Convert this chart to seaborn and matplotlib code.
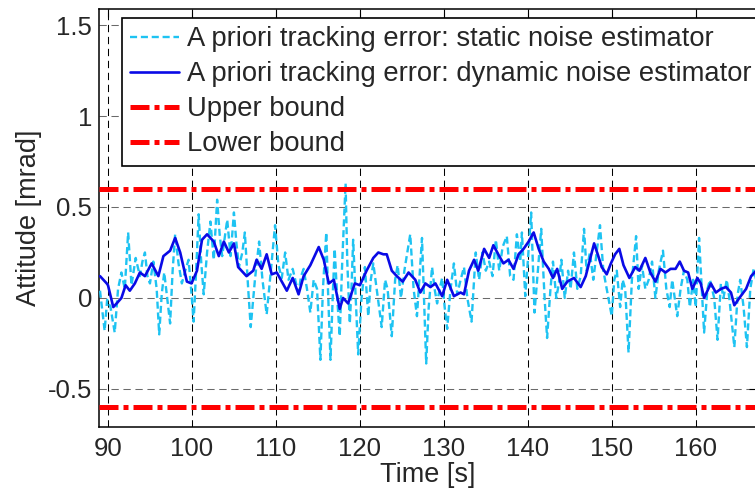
import numpy as np
import pandas as pd
import matplotlib
matplotlib.use("Agg")
import matplotlib.pyplot as plt
import seaborn as sns

# Dynamic-noise-estimator tracking error (smooth trace)
t_dyn = [89.05, 89.85, 90.0, 90.63, 91.03, 91.6, 92.1, 92.6, 93.2, 93.8, 94.4, 95.2,
         96.0, 96.6, 97.4, 98.0, 98.6, 99.4, 99.95, 100.6, 101.2, 101.8, 102.6, 103.2,
         103.8, 104.4, 105.0, 105.5, 106.5, 107.3, 107.7, 108.3, 108.9, 109.5, 110.1,
         110.7, 111.3, 112.0, 112.7, 113.3, 114.1, 115.1, 115.7, 116.3, 116.9, 117.6,
         118.0, 118.6, 119.4, 120.0, 120.8, 121.6, 122.2, 122.8, 123.2, 123.8, 124.4,
         125.1, 125.8, 126.6, 127.2, 127.8, 128.4, 129.0, 129.8, 130.4, 131.2, 132.0,
         132.4, 133.0, 133.6, 134.1, 134.8, 135.4, 135.9, 136.6, 137.1, 137.7, 138.3,
         138.9, 139.5, 140.1, 140.7, 141.3, 141.9, 142.5, 143.0, 143.5, 144.1, 144.7,
         145.5, 146.3, 146.9, 147.4, 147.9, 148.4, 148.8, 149.4, 149.9, 150.4, 150.9,
         151.4, 152.1, 152.8, 153.3, 154.0, 154.6, 155.2, 155.8, 156.4, 157.0, 157.6,
         158.1, 158.6, 159.1, 159.6, 160.2, 160.6, 161.0, 161.8, 162.4, 163.0, 163.6,
         164.2, 164.6, 165.2, 166.0, 166.6, 167.2]
v_dyn = [0.12, 0.08, 0.07, -0.05, -0.03, 0.00, 0.07, 0.04, 0.08, 0.14, 0.12, 0.19,
         0.12, 0.23, 0.26, 0.33, 0.25, 0.09, 0.08, 0.15, 0.32, 0.35, 0.31, 0.23,
         0.31, 0.25, 0.30, 0.17, 0.12, 0.15, 0.21, 0.16, 0.24, 0.13, 0.14,
         0.09, 0.04, 0.11, 0.02, 0.12, 0.18, 0.28, 0.21, 0.08, 0.10, -0.06,
         0.00, -0.03, 0.08, 0.07, 0.15, 0.22, 0.25, 0.24, 0.24, 0.15, 0.12,
         0.09, 0.14, 0.10, 0.03, 0.08, 0.06, 0.08, 0.01, 0.10, 0.01, 0.03,
         0.02, 0.15, 0.21, 0.15, 0.27, 0.22, 0.29, 0.23, 0.19, 0.21, 0.16,
         0.24, 0.27, 0.31, 0.36, 0.27, 0.20, 0.16, 0.11, 0.16, 0.05, 0.09,
         0.11, 0.06, 0.12, 0.21, 0.30, 0.23, 0.17, 0.13, 0.19, 0.24, 0.27,
         0.18, 0.11, 0.17, 0.15, 0.22, 0.14, 0.09, 0.16, 0.14, 0.16, 0.16,
         0.20, 0.15, 0.14, 0.05, 0.11, 0.08, 0.00, 0.08, 0.03, 0.05, 0.06,
         0.03, -0.04, 0.00, 0.05, 0.12, 0.15]

# Static-noise-estimator tracking error (noisy trace)
t_sta = [89.05, 89.6, 89.9, 90.3, 90.8, 91.2, 91.6, 92.0, 92.4, 92.8, 93.3, 93.8, 94.1,
         94.4, 94.7, 95.0, 95.4, 95.8, 96.1, 96.4, 96.7, 97.0, 97.4, 97.7, 98.0, 98.4,
         98.8, 99.2, 99.6, 99.9, 100.2, 100.5, 100.8, 101.1, 101.4, 101.8, 102.2, 102.6,
         103.0, 103.3, 103.6, 104.2, 104.6, 105.0, 105.3, 105.6, 106.0, 106.3, 106.7,
         107.0, 107.5, 108.0, 108.4, 108.9, 109.4, 109.9, 110.3, 110.7, 111.1, 111.5,
         112.0, 112.4, 112.7, 113.0, 113.3, 113.7, 114.1, 114.5, 114.9, 115.3, 115.6,
         116.0, 116.2, 116.5, 116.8, 117.0, 117.3, 117.6, 117.9, 118.3, 118.5, 118.8,
         119.0, 119.2, 119.5, 119.8, 120.2, 120.6, 121.0, 121.3, 121.6, 122.0, 122.6,
         123.0, 123.3, 123.8, 124.2, 124.5, 124.9, 125.3, 126.0, 126.4, 126.8, 127.4,
         127.9, 128.2, 128.6, 128.9, 129.2, 129.5, 129.8, 130.1, 130.4, 130.8, 131.2,
         131.6, 132.0, 132.4, 132.8, 133.3, 133.8, 134.2, 134.6, 135.0, 135.4, 135.8,
         136.2, 136.6, 137.0, 137.5, 137.9, 138.3, 138.7, 139.1, 139.3, 139.7, 140.0,
         140.4, 140.8, 141.2, 141.6, 142.0, 142.3, 142.7, 143.0, 143.4, 143.7, 144.0,
         144.4, 144.8, 145.1, 145.5, 145.9, 146.3, 146.7, 147.0, 147.4, 147.8, 148.2,
         148.6, 149.0, 149.4, 150.0, 150.3, 150.6, 151.0, 151.3, 151.6, 152.0, 152.4,
         152.9, 153.2, 153.6, 154.0, 154.4, 154.8, 155.2, 155.6, 156.1, 156.5, 156.9,
         157.2, 157.8, 158.2, 158.6, 159.0, 159.3, 159.7, 160.0, 160.4, 161.0, 161.4,
         161.7, 162.2, 162.6, 163.0, 163.3, 163.7, 164.0, 164.6, 165.0, 165.3, 165.7,
         166.1, 166.5, 166.9, 167.2]
v_sta = [0.04, -0.18, -0.01, -0.05, -0.19, 0.05, 0.14, 0.05, 0.36, 0.07, 0.22, 0.12, 0.20,
         0.25, 0.12, 0.08, 0.20, 0.05, -0.20, 0.02, 0.14, 0.02, -0.14, 0.15, 0.35, 0.19,
         0.08, 0.15, 0.21, 0.05, -0.13, 0.15, 0.46, 0.20, 0.02, 0.25, 0.42, 0.21,
         0.54, 0.35, 0.23, 0.43, 0.23, 0.47, 0.30, 0.17, 0.25, 0.36, 0.05,
         -0.16, 0.10, 0.31, 0.10, -0.09, 0.15, 0.40, 0.18, 0.11, 0.25, 0.10,
         0.16, 0.08, 0.03, 0.12, 0.16, 0.05, -0.08, 0.10, 0.05, -0.34, 0.05,
         0.36, 0.05, -0.34, 0.05, 0.27, 0.00, -0.21, 0.20, 0.63, 0.20, -0.14,
         0.05, 0.32, 0.00, -0.31, 0.00, 0.17, -0.10, 0.10, 0.19, 0.05, -0.16,
         0.10, 0.05, -0.21, 0.10, 0.18, 0.00, 0.15, 0.35, 0.05, -0.10, 0.33,
         -0.36, -0.05, 0.17, 0.05, -0.03, 0.05, 0.11, -0.05, -0.17, 0.05, 0.19,
         0.02, 0.10, 0.17, 0.00, -0.13, 0.25, 0.10, 0.25, 0.15, 0.20, 0.12,
         0.32, 0.15, 0.28, 0.34, 0.12, 0.10, 0.35, 0.20, 0.36, 0.01, 0.20,
         0.47, -0.08, 0.15, 0.38, 0.00, -0.22, 0.05, 0.20, 0.00, 0.08, 0.21,
         0.00, 0.15, 0.05, 0.25, 0.05, 0.12, 0.38, 0.15, 0.25, 0.10, 0.25,
         0.40, 0.15, 0.05, -0.10, 0.10, 0.15, -0.05, 0.10, 0.05, -0.30, 0.10,
         0.34, 0.05, 0.18, 0.05, 0.10, 0.20, 0.00, 0.15, 0.26, 0.05, -0.05,
         0.10, -0.10, 0.05, 0.15, 0.10, -0.05, 0.10, -0.05, 0.33, -0.19, 0.05,
         0.10, 0.00, -0.23, 0.08, 0.00, 0.10, 0.00, -0.27, 0.02, 0.10, -0.05,
         -0.27, 0.05, 0.16, 0.10]

upper_bound = 0.6
lower_bound = -0.6

labels = ["A priori tracking error: static noise estimator",
          "A priori tracking error: dynamic noise estimator",
          "Upper bound",
          "Lower bound"]
x_ticks = [90, 100, 110, 120, 130, 140, 150, 160]
y_ticks = [-0.5, 0, 0.5, 1, 1.5]

sns.set_style("white")
plt.rcParams["font.family"] = ["Liberation Sans", "DejaVu Sans"]

W, H = 755, 493
fig = plt.figure(figsize=(W / 100, H / 100), dpi=100)
ax = fig.add_axes([99 / W, (H - 427) / H, (757 - 99) / W, (427 - 9) / H])

df_sta = pd.DataFrame({"t": t_sta, "v": v_sta})
df_dyn = pd.DataFrame({"t": t_dyn, "v": v_dyn})

cyan = "#1ec3f2"
blue = "#0a0ae6"
red = "#ff0000"

sns.lineplot(data=df_sta, x="t", y="v", ax=ax, color=cyan, lw=1.7,
             linestyle=(0, (3.0, 1.6)), estimator=None, sort=False,
             label=labels[0], zorder=3)
sns.lineplot(data=df_dyn, x="t", y="v", ax=ax, color=blue, lw=1.9,
             estimator=None, sort=False, label=labels[1], zorder=4)
ax.axhline(upper_bound, color=red, lw=3.6, linestyle=(0, (3.8, 1.0, 1.0, 1.0)),
           label=labels[2], zorder=5)
ax.axhline(lower_bound, color=red, lw=3.6, linestyle=(0, (3.8, 1.0, 1.0, 1.0)),
           label=labels[3], zorder=5)

ax.set_xlim(88.93, 167.3)
ax.set_ylim(-0.709, 1.588)
ax.set_xticks(x_ticks)
ax.set_yticks(y_ticks)
ax.set_yticklabels(["-0.5", "0", "0.5", "1", "1.5"])

# dashed grid
ax.set_axisbelow(True)
ax.xaxis.grid(True, color="black", lw=0.75, linestyle=(0, (7, 4.5)))
ax.yaxis.grid(True, color="#6a6a6a", lw=0.75, linestyle=(0, (7, 4.5)))

for s in ax.spines.values():
    s.set_color("black")
    s.set_linewidth(1.1)

ax.tick_params(axis="both", direction="in", length=6, width=0.8, color="black",
               labelsize=18.5, pad=5, top=True, right=True)
ax.tick_params(axis="x", pad=7)
ax.set_xlabel("Time [s]", fontsize=19.5, labelpad=1)
ax.set_ylabel("Attitude [mrad]", fontsize=19.5, labelpad=4)

leg = ax.legend(loc="upper left", bbox_to_anchor=(122 / W, 1 - 18 / H),
                bbox_transform=fig.transFigure, borderaxespad=0,
                fontsize=19.7, handlelength=1.8, handletextpad=0.26,
                labelspacing=0.33, borderpad=0.3, fancybox=False,
                framealpha=1, edgecolor="black")
leg.get_frame().set_linewidth(1.2)

fig.savefig("out.png", dpi=100)
